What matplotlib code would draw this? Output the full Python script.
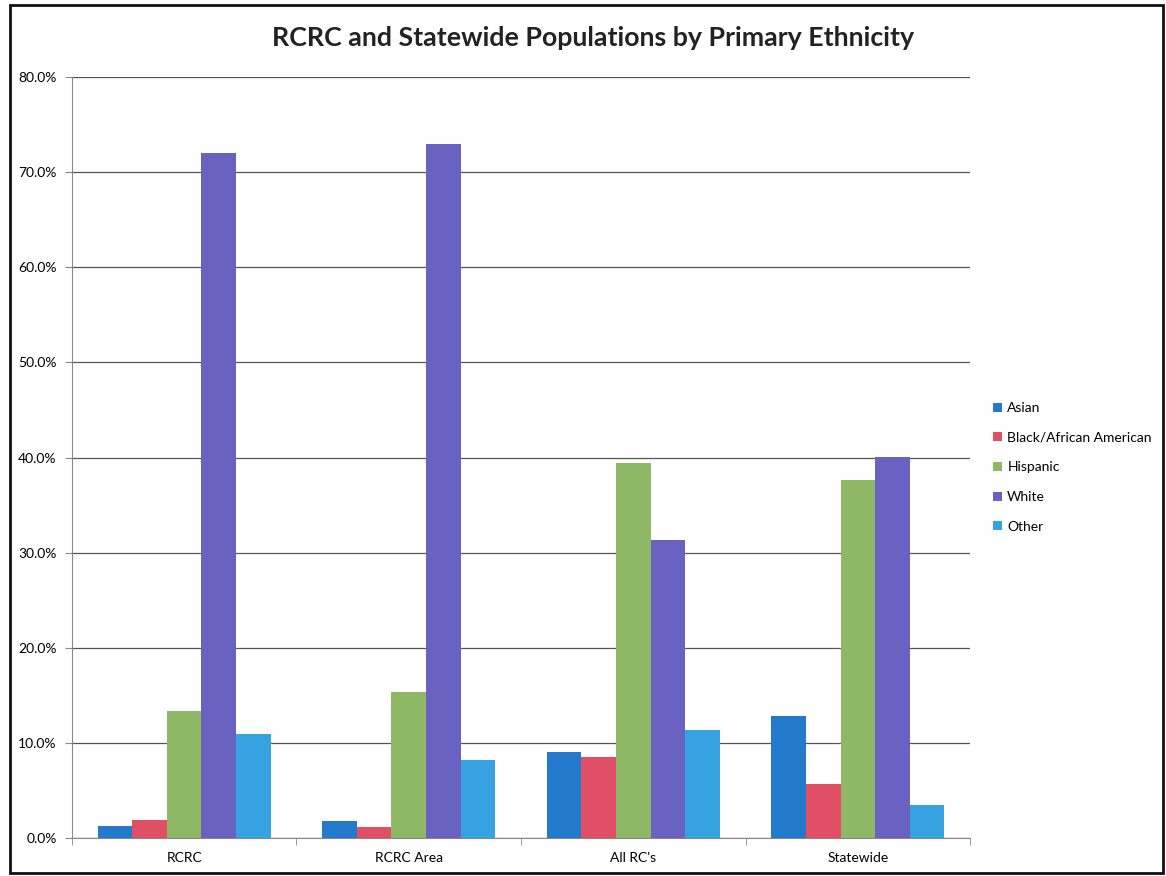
import numpy as np
import matplotlib
matplotlib.use("Agg")
import matplotlib.pyplot as plt
from matplotlib.patches import Rectangle
from matplotlib.ticker import PercentFormatter

# data (percent)
categories = ["RCRC", "RCRC Area", "All RC's", "Statewide"]
asian = [1.3, 1.8, 9.0, 12.8]
black = [1.9, 1.2, 8.5, 5.7]
hispanic = [13.4, 15.4, 39.4, 37.6]
white = [72.0, 73.0, 31.3, 40.1]
other = [10.9, 8.2, 11.4, 3.5]

series = [("Asian", asian, "#2379cc"),
          ("Black/African American", black, "#e04f66"),
          ("Hispanic", hispanic, "#8fb866"),
          ("White", white, "#6a62c0"),
          ("Other", other, "#36a2e2")]

plt.rcParams['font.family'] = ['Lato', 'DejaVu Sans']

fig = plt.figure(figsize=(11.66, 8.76), dpi=100)
ax = fig.add_axes([0.0617, 0.0434, 0.7703, 0.8686])

x = np.arange(len(categories))
bw = 1 / 6.5
for i, (name, vals, col) in enumerate(series):
    ax.bar(x + (i - 2) * bw, vals, width=bw, color=col, label=name, zorder=3)

ax.set_xlim(-0.5, len(categories) - 0.5)
ax.set_ylim(0, 80)
ax.set_yticks(np.arange(0, 81, 10))
ax.yaxis.set_major_formatter(PercentFormatter(decimals=1))
ax.yaxis.grid(True, color="#555555", linewidth=0.9, zorder=0)
ax.set_xticks(x)
ax.set_xticklabels(categories)
ax.set_xticks(np.arange(-0.5, len(categories)), minor=True)
ax.tick_params(axis="x", which="major", length=0, pad=10, labelsize=10)
ax.tick_params(axis="x", which="minor", length=5, color="#888888")
ax.tick_params(axis="y", length=5, color="#888888", labelsize=10, pad=6)
for s in ["top", "right"]:
    ax.spines[s].set_visible(False)
for s in ["left", "bottom"]:
    ax.spines[s].set_color("#888888")

fig.suptitle("RCRC and Statewide Populations by Primary Ethnicity",
             x=0.509, y=0.97, fontsize=19.3, fontweight="bold", color="#222222")

ax.legend(loc="center left", bbox_to_anchor=(1.012, 0.487), frameon=False,
          fontsize=10, handlelength=0.6, handleheight=0.6, handletextpad=0.4,
          labelspacing=1.27)

fig.patches.append(Rectangle((0.009, 0.003), 0.988, 0.991, transform=fig.transFigure,
                             fill=False, edgecolor="#111111", linewidth=2.0))

fig.savefig("out.png", dpi=100)
